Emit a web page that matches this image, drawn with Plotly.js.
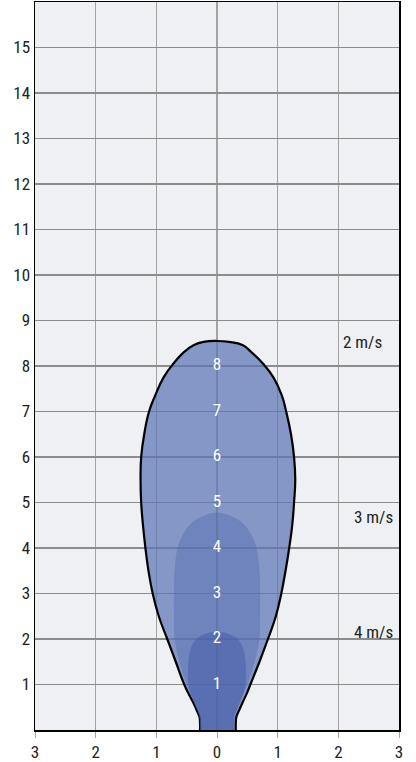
<!DOCTYPE html>
<html>
<head>
<meta charset="utf-8">
<script src="https://cdn.plot.ly/plotly-3.0.1.min.js"></script>
<style>html,body{margin:0;padding:0;background:#fff;}#chart{width:416px;height:762px;}</style>
</head>
<body>
<div id="chart"></div>
<script>
// Outer contour (2 m/s): heights and left / right boundary positions
const outerY      = [0, 0.15, 0.29, 0.45, 0.6, 0.8, 1.0, 1.5, 2.0, 2.5, 3.0, 3.5, 4.0, 4.5, 5.0, 5.5, 6.0, 6.5, 7.0, 7.35, 7.75, 8.05, 8.3, 8.46, 8.53, 8.55];
const outerLeft   = [-0.28, -0.28, -0.29, -0.34, -0.39, -0.47, -0.54, -0.68, -0.82, -0.96, -1.06, -1.13, -1.18, -1.22, -1.25, -1.26, -1.25, -1.20, -1.12, -1.02, -0.88, -0.72, -0.55, -0.38, -0.22, 0.0];
const outerRight  = [0.31, 0.31, 0.32, 0.37, 0.42, 0.49, 0.55, 0.70, 0.84, 0.97, 1.06, 1.13, 1.19, 1.24, 1.27, 1.29, 1.27, 1.22, 1.14, 1.07, 0.93, 0.76, 0.57, 0.42, 0.20, 0.0];
// Middle contour (3 m/s)
const midY        = [0, 0.3, 0.6, 1.0, 1.5, 2.0, 2.5, 3.0, 3.5, 4.0, 4.3, 4.55, 4.72, 4.78];
const midHalf     = [0.28, 0.29, 0.37, 0.50, 0.62, 0.70, 0.71, 0.71, 0.70, 0.65, 0.56, 0.42, 0.20, 0.0];
// Inner contour (4 m/s)
const innerY      = [0, 0.3, 0.6, 1.0, 1.5, 1.8, 2.0, 2.1, 2.16];
const innerHalf   = [0.28, 0.29, 0.38, 0.47, 0.47, 0.43, 0.34, 0.22, 0.0];
// Labels
const xTickVals   = [-3, -2, -1, 0, 1, 2, 3];
const xTickText   = ['3', '2', '1', '0', '1', '2', '3'];
const yTickVals   = [1, 2, 3, 4, 5, 6, 7, 8, 9, 10, 11, 12, 13, 14, 15];
const distLabels  = ['1', '2', '3', '4', '5', '6', '7', '8'];
const distY       = [1, 2, 3, 4, 5, 6, 7, 8];
const speedText   = ['2 m/s', '3 m/s', '4 m/s'];
const speedX      = [2.05, 2.93, 2.93];
const speedY      = [8.53, 4.68, 2.15];
const speedAnchor = ['left', 'right', 'right'];

function outline(ys, left, right) {
  const xs = [], yy = [];
  for (let i = 0; i < ys.length; i++) { xs.push(left[i]); yy.push(ys[i]); }
  for (let i = ys.length - 2; i >= 0; i--) { xs.push(right[i]); yy.push(ys[i]); }
  return {x: xs, y: yy};
}
function sym(ys, half) {
  return outline(ys, half.map(v => -v), half);
}

const FONT = "'Liberation Sans Narrow','Roboto Condensed','DejaVu Sans Condensed',Roboto,sans-serif";
const FS = 17;

const o = outline(outerY, outerLeft, outerRight);
const m = sym(midY, midHalf);
const n = sym(innerY, innerHalf);

const traces = [
  {x: o.x, y: o.y, mode: 'lines', fill: 'toself', fillcolor: 'rgba(92,116,180,0.72)',
   line: {color: '#000', width: 2.2, shape: 'spline', smoothing: 1.3}, hoverinfo: 'skip'},
  {x: m.x, y: m.y, mode: 'lines', fill: 'toself', fillcolor: 'rgba(84,106,176,0.45)',
   line: {color: 'rgba(0,0,0,0)', width: 0, shape: 'spline', smoothing: 1}, hoverinfo: 'skip'},
  {x: n.x, y: n.y, mode: 'lines', fill: 'toself', fillcolor: 'rgba(70,92,166,0.5)',
   line: {color: 'rgba(0,0,0,0)', width: 0, shape: 'spline', smoothing: 1}, hoverinfo: 'skip'},
  {x: distY.map(() => 0), y: distY, mode: 'text', text: distLabels,
   textfont: {color: '#ffffff', size: FS, family: FONT}, textposition: 'middle center', hoverinfo: 'skip'}
];

const annotations = speedText.map((t, i) => ({
  x: speedX[i], y: speedY[i], xref: 'x', yref: 'y', text: t, showarrow: false,
  xanchor: speedAnchor[i], yanchor: 'middle', font: {size: FS, color: '#222', family: FONT}
}));

const layout = {
  width: 416, height: 762,
  margin: {l: 35, r: 17, t: 2, b: 32},
  paper_bgcolor: '#ffffff', plot_bgcolor: '#eff0f3',
  showlegend: false,
  font: {family: FONT, size: FS, color: '#222'},
  xaxis: {range: [-3, 3], tickvals: xTickVals, ticktext: xTickText, showgrid: true, gridcolor: '#a3a3a3', gridwidth: 1.2,
          zeroline: false, showline: true, linecolor: '#000', linewidth: 1.5, mirror: true,
          ticks: 'outside', ticklen: 6, tickcolor: '#a3a3a3', tickfont: {size: FS, family: FONT, color: '#222'}, fixedrange: true},
  yaxis: {range: [0, 16], tickvals: yTickVals, showgrid: true, gridcolor: '#8c8c8c', gridwidth: 1.2,
          zeroline: false, showline: true, linecolor: '#000', linewidth: 1.5, mirror: true,
          ticks: '', tickfont: {size: FS, family: FONT, color: '#222'}, fixedrange: true},
  annotations: annotations
};

Plotly.newPlot('chart', traces, layout, {displayModeBar: false, staticPlot: true});
</script>
</body>
</html>
